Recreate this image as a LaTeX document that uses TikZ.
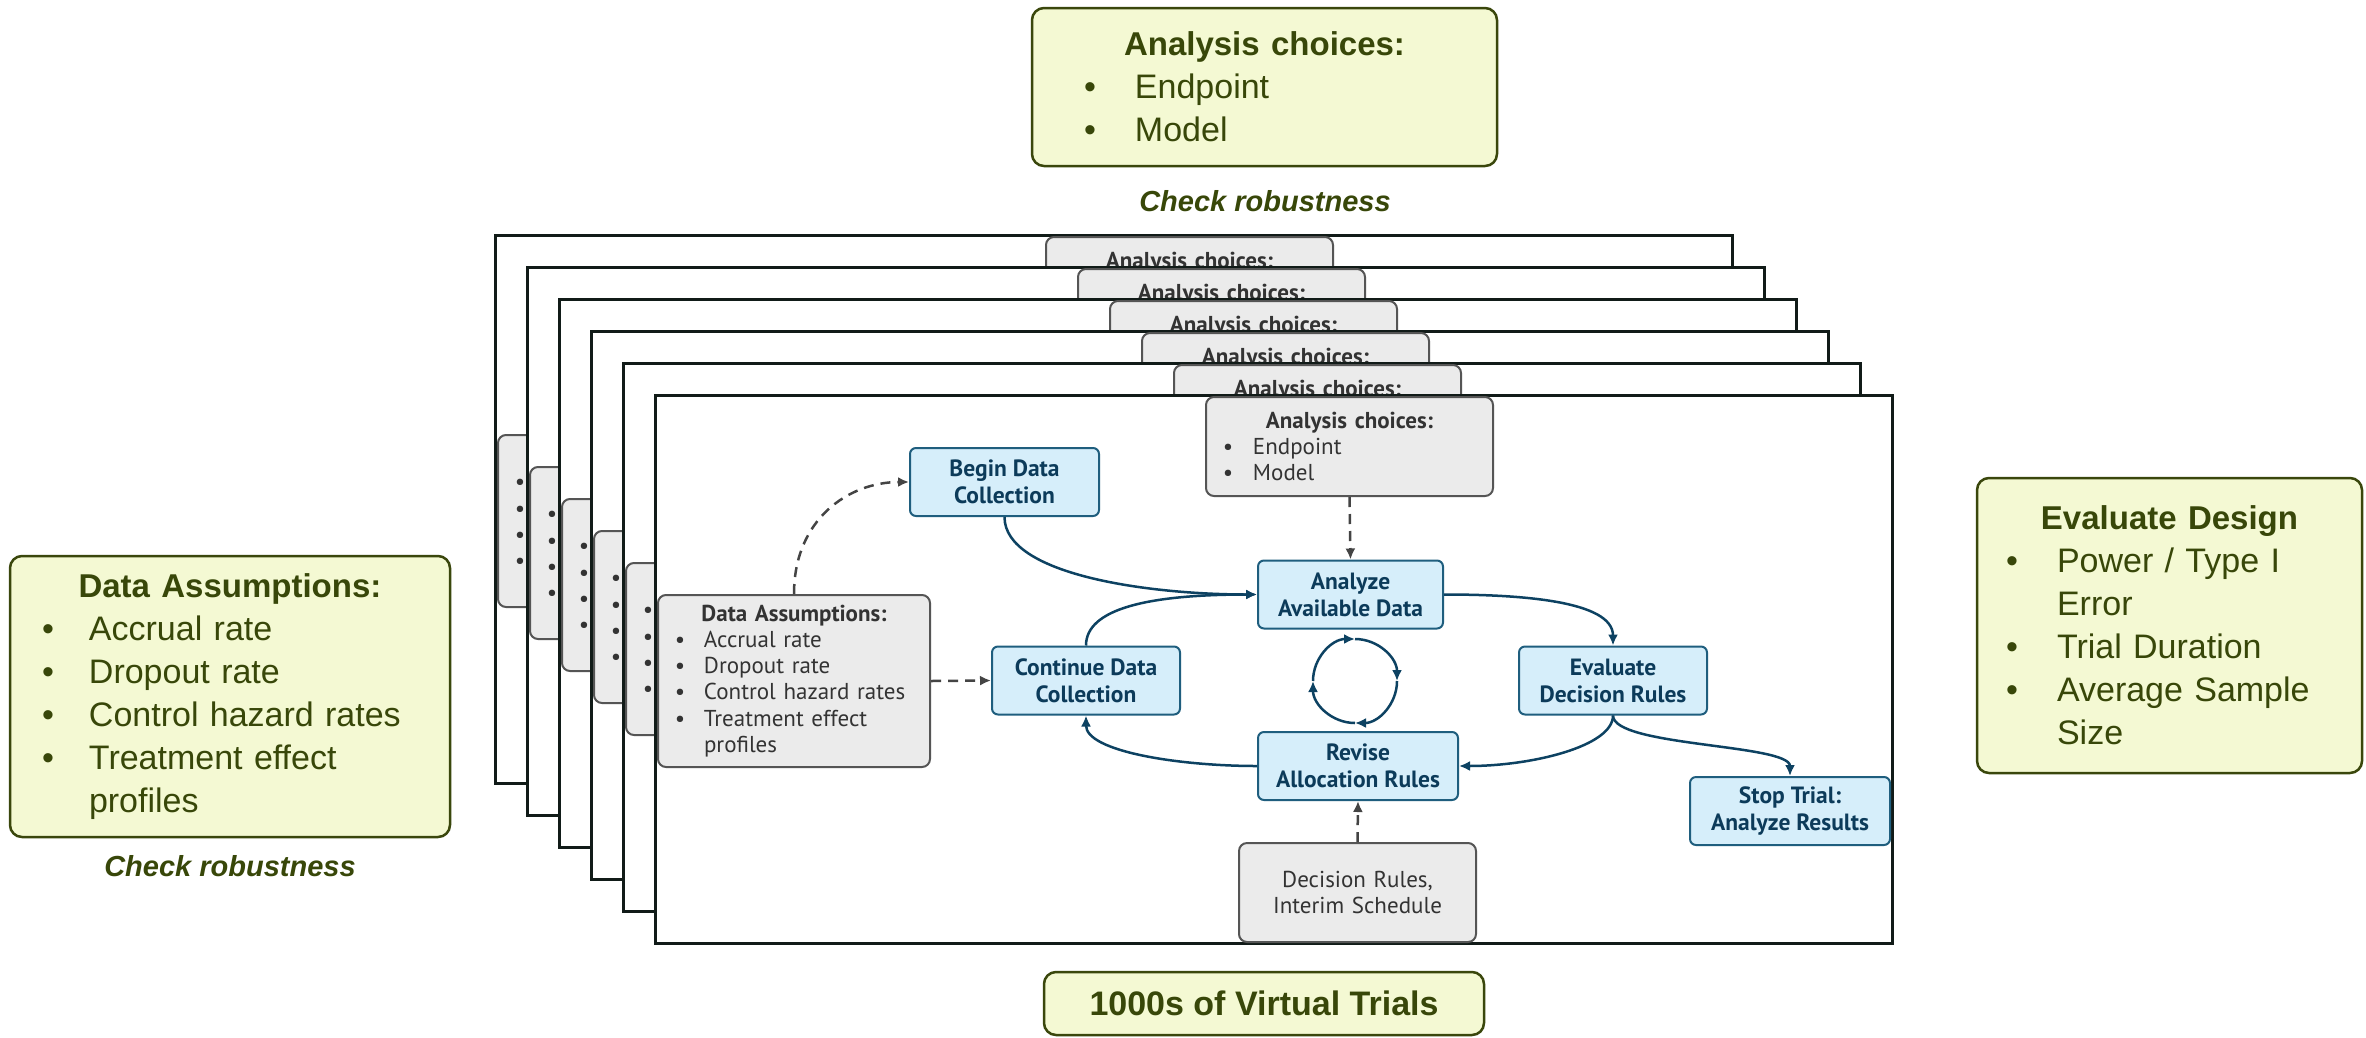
\documentclass[tikz,border=0pt]{standalone}
\usepackage{fontspec}
\setmainfont{Liberation Sans}
\newfontfamily\flowfont{PT Sans}
\usetikzlibrary{arrows.meta}

\definecolor{greenfill}{HTML}{F4F9D3}
\definecolor{greenline}{HTML}{3A470C}
\definecolor{greentext}{HTML}{384709}
\definecolor{bluefill}{HTML}{D6EEFA}
\definecolor{blueline}{HTML}{1F5E7E}
\definecolor{bluetext}{HTML}{0C3B5A}
\definecolor{flowline}{HTML}{0D4262}
\definecolor{greyfill}{HTML}{EBEBEB}
\definecolor{greyline}{HTML}{555555}
\definecolor{greytext}{HTML}{333333}
\definecolor{dashline}{HTML}{444444}
\definecolor{framecol}{HTML}{111B18}

% bullet line: bullet centre, text start, text
\newcommand{\bitem}[3]{\par\noindent\hspace*{#1}\makebox[0pt]{\textbullet}\hspace*{\dimexpr#2-#1\relax}#3}
\newcommand{\bmore}[2]{\par\noindent\hspace*{#1}#2}

% contents of the grey boxes on the front sheet
\newcommand{\choicetext}{{\centering\bfseries Analysis choices:\par}%
  \bitem{22pt}{47pt}{Endpoint}\bitem{22pt}{47pt}{Model}}
\newcommand{\assumetext}{{\centering\bfseries Data Assumptions:\par}%
  \bitem{22pt}{46pt}{Accrual rate}\bitem{22pt}{46pt}{Dropout rate}%
  \bitem{22pt}{46pt}{Control hazard rates}\bitem{22pt}{46pt}{Treatment effect}%
  \bmore{46pt}{profiles}}
% the sheets behind only show the top and left edge of these boxes
\newcommand{\choicetop}{{\centering\bfseries Analysis choices:\par}%
  \noindent\mbox{}\par\noindent\mbox{}}
\newcommand{\assumeleft}{\noindent\mbox{\bfseries\vphantom{D}}%
  \bitem{22pt}{46pt}{}\bitem{22pt}{46pt}{}%
  \bitem{22pt}{46pt}{}\bitem{22pt}{46pt}{}\par\noindent\mbox{}}

\begin{document}
\begin{tikzpicture}[x=1pt, y=-1pt,
    outer/.style = {draw=greenline, fill=greenfill, text=greentext, line width=2.5pt, rounded corners=12pt, inner xsep=0pt, inner ysep=0pt, align=left, font=\fontsize{34}{43}\selectfont},
    robust/.style = {text=greentext, font=\fontsize{29}{34}\selectfont\bfseries\itshape},
    trial/.style = {draw=framecol, fill=white, line width=3pt},
    grey/.style = {draw=greyline, fill=greyfill, text=greytext, line width=2pt, rounded corners=8pt, inner xsep=0pt, align=left, font=\flowfont\fontsize{23}{26.2}\selectfont},
    stage/.style = {draw=blueline, fill=bluefill, text=bluetext, line width=2pt, rounded corners=6pt, align=center, minimum height=68pt, inner sep=0pt, font=\flowfont\bfseries\fontsize{23.5}{27}\selectfont},
    flow/.style = {draw=flowline, line width=2.5pt, -{Latex[length=11pt,width=10pt]}},
    dep/.style = {draw=dashline, line width=2.5pt, dash pattern=on 10pt off 7pt, -{Latex[length=11pt,width=10pt]}},
    ]
    \useasboundingbox (0,0) rectangle (2366,1037);

    % green summary boxes
    \node[outer, text width=465pt, minimum height=158pt] (gchoice) at (1264.5,87) {{\centering\bfseries\fontsize{33}{43}\selectfont Analysis choices:\par}\bitem{58pt}{103pt}{Endpoint}\bitem{58pt}{103pt}{Model}};
    \node[robust] (chk1) at (1265,201) {Check robustness};

    \node[outer, text width=440pt, minimum height=281pt] (gassume) at (230,696.5) {{\centering\bfseries\fontsize{33}{43}\selectfont Data Assumptions:\par}\bitem{38pt}{79pt}{Accrual rate}\bitem{38pt}{79pt}{Dropout rate}\bitem{38pt}{79pt}{Control hazard rates}\bitem{38pt}{79pt}{Treatment effect}\bmore{79pt}{profiles}};
    \node[robust] (chk2) at (230,866) {Check robustness};

    \node[outer, text width=385pt, minimum height=295pt] (gdesign) at (2169.5,625.5) {{\centering\bfseries\fontsize{33}{43}\selectfont Evaluate Design\par}\bitem{35pt}{80pt}{Power / Type I}\bmore{80pt}{Error}\bitem{35pt}{80pt}{Trial Duration}\bitem{35pt}{80pt}{Average Sample}\bmore{80pt}{Size}};

    \node[outer, minimum width=440pt, minimum height=63pt, font=\fontsize{34}{40}\selectfont\bfseries] (gtrials) at (1264,1003.5) {1000s of Virtual Trials};

    % stacked trial sheets behind the front one
    \foreach \k in {5,4,3,2,1} {
        \begin{scope}[shift={(-32*\k,-32*\k)}]
            \draw[trial] (655,395) rectangle (1892,943);
            \node[grey, text width=287pt, minimum height=99pt] (choice\k) at (1349.5,446.5) {\choicetop};
            \node[grey, text width=272pt, minimum height=172pt] (assume\k) at (794,681) {\assumeleft};
        \end{scope}
    }

    % front sheet
    \draw[trial] (655,395) rectangle (1892,943);
    \node[grey, text width=287pt, minimum height=99pt] (choice) at (1349.5,446.5) {\choicetext};
    \node[grey, text width=272pt, minimum height=172pt] (assume) at (794,681) {\assumetext};
    \node[grey, text width=237pt, minimum height=99pt, align=center] (rules) at (1357.5,892.5) {Decision Rules,\\Interim Schedule};

    \node[stage, minimum width=189pt] (begin) at (1004.5,482) {Begin Data\\Collection};
    \node[stage, minimum width=188pt] (cont) at (1086,680.5) {Continue Data\\Collection};
    \node[stage, minimum width=185pt] (analyze) at (1350.5,594.5) {Analyze\\Available Data};
    \node[stage, minimum width=188pt] (evaluate) at (1613,680.5) {Evaluate\\Decision Rules};
    \node[stage, minimum width=200pt] (revise) at (1358,766) {Revise\\Allocation Rules};
    \node[stage, minimum width=200pt] (stop) at (1790,811) {Stop Trial:\\Analyze Results};

    \draw[flow] (begin.south) .. controls +(0,58) and +(-108,0) .. (analyze.west);
    \draw[flow] (cont.north) .. controls +(0,-37) and +(-108,0) .. (analyze.west);
    \draw[flow] (analyze.east) .. controls +(75,0) and +(0,-45) .. (evaluate.north);
    \draw[flow] (evaluate.south) .. controls +(0,31) and +(72,0) .. (revise.east);
    \draw[flow] (evaluate.south) .. controls +(0,31) and +(0,-32) .. (stop.north);
    \draw[flow] (revise.west) .. controls +(-78,0) and +(0,36) .. (cont.south);

    \draw[dep] (assume.north) .. controls +(0,-75) and +(-60,0) .. (begin.west);
    \draw[dep] (assume.east) -- (cont.west);
    \draw[dep] (choice.south) -- (analyze.north);
    \draw[dep] (rules.north) -- (revise.south);

    % little cycle in the middle
    \coordinate (cyc) at (1355,681);
    \foreach \a in {180,270,0,90}
        \draw[flow, -{Latex[length=11pt,width=10pt]}] ([shift={(\a:42)}]cyc) arc[start angle=\a, end angle=\a+90, radius=42];
\end{tikzpicture}
\end{document}
